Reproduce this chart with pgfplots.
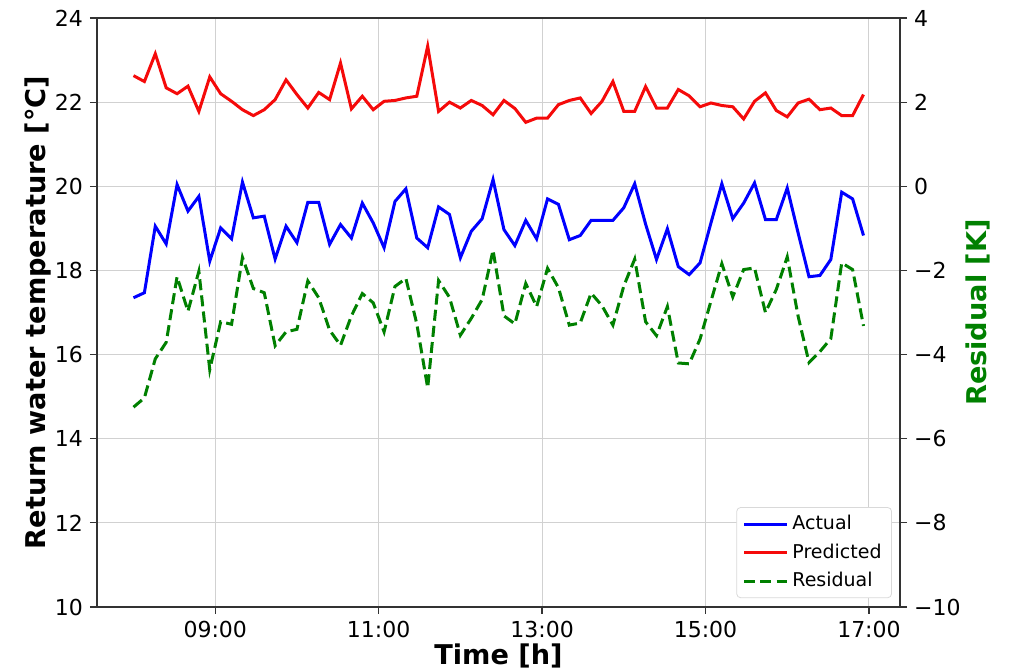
\documentclass[border=0pt]{standalone}
\usepackage{fontspec}
\setmainfont{DejaVu Sans}
\usepackage{pgfplots}
\usepackage{pgfplotstable}
\pgfplotsset{compat=1.18}

\definecolor{mplblue}{RGB}{0,0,255}
\definecolor{mplred}{RGB}{245,10,10}
\definecolor{mplgreen}{RGB}{0,128,0}

% t [h], actual, predicted, residual (8 min steps)
\pgfplotstableread{
t act pred res
8.0000 17.35 22.63 -5.25
8.1333 17.47 22.49 -5.03
8.2667 19.05 23.15 -4.10
8.4000 18.63 22.34 -3.71
8.5333 20.04 22.20 -2.15
8.6667 19.41 22.38 -2.97
8.8000 19.76 21.78 -2.02
8.9333 18.22 22.60 -4.36
9.0667 19.01 22.20 -3.22
9.2000 18.75 22.02 -3.28
9.3333 20.10 21.82 -1.69
9.4667 19.25 21.68 -2.43
9.6000 19.29 21.82 -2.53
9.7333 18.27 22.06 -3.79
9.8667 19.05 22.53 -3.46
10.0000 18.66 22.18 -3.40
10.1333 19.62 21.86 -2.25
10.2667 19.62 22.23 -2.65
10.4000 18.62 22.06 -3.42
10.5333 19.09 22.93 -3.78
10.6667 18.77 21.84 -3.08
10.8000 19.60 22.14 -2.55
10.9333 19.13 21.82 -2.77
11.0667 18.54 22.02 -3.46
11.2000 19.64 22.04 -2.38
11.3333 19.94 22.10 -2.19
11.4667 18.77 22.14 -3.27
11.6000 18.54 23.33 -4.79
11.7333 19.51 21.78 -2.24
11.8667 19.33 22.00 -2.64
12.0000 18.30 21.86 -3.54
12.1333 18.93 22.04 -3.14
12.2667 19.23 21.92 -2.69
12.4000 20.16 21.70 -1.52
12.5333 18.97 22.04 -3.08
12.6667 18.59 21.85 -3.27
12.8000 19.19 21.52 -2.31
12.9333 18.75 21.62 -2.86
13.0667 19.70 21.62 -1.95
13.2000 19.57 21.94 -2.41
13.3333 18.73 22.04 -3.30
13.4667 18.83 22.10 -3.25
13.6000 19.19 21.73 -2.54
13.7333 19.19 22.02 -2.84
13.8667 19.19 22.49 -3.30
14.0000 19.49 21.78 -2.37
14.1333 20.06 21.78 -1.73
14.2667 19.10 22.37 -3.22
14.4000 18.26 21.86 -3.55
14.5333 18.99 21.86 -2.86
14.6667 18.09 22.30 -4.20
14.8000 17.90 22.15 -4.22
14.9333 18.18 21.89 -3.63
15.0667 19.13 21.98 -2.73
15.2000 20.06 21.92 -1.84
15.3333 19.23 21.89 -2.63
15.4667 19.60 21.60 -1.98
15.6000 20.08 22.02 -1.94
15.7333 19.21 22.22 -3.00
15.8667 19.21 21.80 -2.45
16.0000 19.96 21.65 -1.68
16.1333 18.89 21.98 -3.09
16.2667 17.85 22.07 -4.19
16.4000 17.88 21.82 -3.93
16.5333 18.26 21.86 -3.62
16.6667 19.86 21.68 -1.82
16.8000 19.70 21.68 -1.98
16.9333 18.83 22.18 -3.32
}\datatable

\pgfplotsset{
  common/.style={
    scale only axis,
    width=401.5pt, height=294.5pt,
    xmin=7.5533, xmax=17.38,
    tick align=outside,
    major tick length=3.5pt,
    tick style={black!80, line width=0.6pt},
    axis line style={black!80, line width=0.6pt},
    tick label style={font=\fontsize{11}{13}\selectfont},
    /pgf/number format/assume math mode=true,
    label style={font=\bfseries\fontsize{13.6}{15}\selectfont},
  },
}

\begin{document}
\begin{tikzpicture}
  \useasboundingbox (-48.5pt,-31pt) rectangle (458pt,303.5pt);
  \begin{axis}[
    common,
    ymin=10, ymax=24,
    xtick={9,11,13,15,17},
    xticklabels={09:00,11:00,13:00,15:00,17:00},
    ytick={10,12,...,24},
    xtick pos=bottom, ytick pos=left,
    grid=major,
    grid style={black!18, line width=0.5pt},
    xlabel={Time [h]},
    xlabel style={yshift=4pt},
    ylabel={Return water temperature [°C]},
    ylabel style={yshift=-5pt},
  ]
    \addplot[mplblue, line width=1.5pt] table[x=t, y=act] {\datatable};
    \addplot[mplred, line width=1.5pt] table[x=t, y=pred] {\datatable};
  \end{axis}
  \begin{axis}[
    common,
    ymin=-10, ymax=4,
    axis x line=none,
    axis y line*=right,
    ytick={-10,-8,...,4},
    yticklabels={−10,−8,−6,−4,−2,0,2,4},
    ylabel={Residual [K]},
    ylabel style={color=mplgreen, yshift=4pt},
    legend style={
      at={(0.99,0.015)}, anchor=south east,
      draw=black!15, rounded corners=2pt,
      font=\fontsize{9.5}{11}\selectfont,
      legend cell align=left,
      row sep=1.5pt,
    },
    legend image code/.code={\draw[#1] (0cm,0cm) -- (0.75cm,0cm);},
  ]
    \addlegendimage{mplblue, line width=1.5pt}
    \addlegendentry{Actual}
    \addlegendimage{mplred, line width=1.5pt}
    \addlegendentry{Predicted}
    \addplot[mplgreen, line width=1.5pt, dash pattern=on 5.5pt off 2.6pt] table[x=t, y=res] {\datatable};
    \addlegendentry{Residual}
  \end{axis}
\end{tikzpicture}
\end{document}
